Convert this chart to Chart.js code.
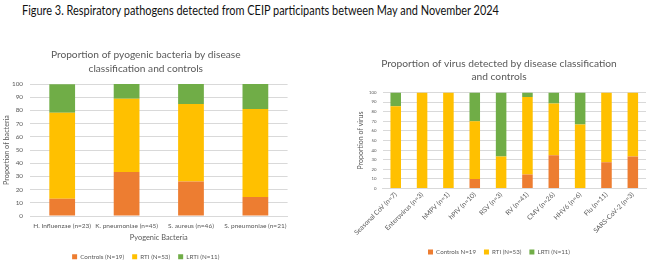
<!DOCTYPE html>
<html><head><meta charset="utf-8">
<script src="https://cdn.jsdelivr.net/npm/chart.js@4"></script>
<style>
html,body{margin:0;padding:0;background:#fff;width:650px;height:265px;overflow:hidden;font-family:Lato,"Liberation Sans",sans-serif;}
#mainTitle{position:absolute;left:22px;top:1px;line-height:20px;color:#111;white-space:nowrap;transform-origin:0 50%;}
#c1wrap{position:absolute;left:0;top:40px;width:292px;height:225px;}
#c2wrap{position:absolute;left:352px;top:48px;width:296px;height:217px;}
</style></head>
<body>
<div id="mainTitle">Figure 3. Respiratory pathogens detected from CEIP participants between May and November 2024</div>
<div id="c1wrap"><canvas id="c1" width="292" height="225"></canvas></div>
<div id="c2wrap"><canvas id="c2" width="296" height="217"></canvas></div>
<script>
// ---- Data ----
const bacteriaLabels = ["H. Influenzae (n=23)", "K. pneumoniae (n=45)", "S. aureus (n=46)", "S. pneumoniae (n=21)"];
const bacteriaControls = [13.0, 33.3, 26.1, 14.3];
const bacteriaRTI = [65.2, 55.6, 58.7, 66.7];
const bacteriaLRTI = [21.7, 11.1, 15.2, 19.0];

const virusLabels = ["Seasonal CoV (n=7)", "Enterovirus (n=3)", "hMPV (n=1)", "hPIV (n=10)", "RSV (n=3)", "RV (n=41)", "CMV (n=26)", "HHV6 (n=6)", "Flu (n=11)", "SARS-CoV-2 (n=3)"];
const virusControls = [0, 0, 0, 10, 0, 14.6, 34.6, 0, 27.3, 33.3];
const virusRTI = [85.7, 100, 100, 60, 33.3, 80.5, 53.8, 66.7, 72.7, 66.7];
const virusLRTI = [14.3, 0, 0, 30, 66.7, 4.9, 11.5, 33.3, 0, 0];

const yTicks = [0, 10, 20, 30, 40, 50, 60, 70, 80, 90, 100];

const leftLegend = ["Controls (N=19)", "RTI (N=53)", "LRTI (N=11)"];
const rightLegend = ["Controls N=19", "RTI (N=53)", "LRTI (N=11)"];

const mainTitleText = "Figure 3. Respiratory pathogens detected from CEIP participants between May and November 2024";
const leftTitle = ["Proportion of pyogenic bacteria by disease", "classification and controls"];
const rightTitle = ["Proportion of virus detected by disease classification", "and controls"];

// ---- Styles ----
const C_ORANGE = "#ED7D31", C_YELLOW = "#FFC000", C_GREEN = "#70AD47";
const TXT = "#595959";
const FAMILY = "Lato";
const FONT = "Lato, 'Liberation Sans', sans-serif";
Chart.defaults.font.family = FONT;
Chart.defaults.color = TXT;
Chart.defaults.animation = false;

const mctx = document.createElement("canvas").getContext("2d");
function fit(text, width) {
  mctx.font = "100px " + FAMILY;
  return 100 * width / mctx.measureText(text).width;
}

// main title: slightly taller glyphs, compressed horizontally to the reference width
(function () {
  const el = document.getElementById("mainTitle");
  const size = 12.6;
  el.style.fontSize = size + "px";
  mctx.font = size + "px " + FAMILY;
  const w = mctx.measureText(mainTitleText).width;
  el.style.transform = "scaleX(" + (478 / w).toFixed(4) + ")";
})();

function makeChart(id, labels, ctrl, rti, lrti, legendLabels, cfg) {
  const ds = [
    {label: legendLabels[0], data: ctrl, backgroundColor: C_ORANGE},
    {label: legendLabels[1], data: rti, backgroundColor: C_YELLOW},
    {label: legendLabels[2], data: lrti, backgroundColor: C_GREEN}
  ].map(d => Object.assign(d, {barPercentage: cfg.barPct, categoryPercentage: 1, borderWidth: 0}));
  return new Chart(document.getElementById(id), {
    type: "bar",
    data: {labels: labels, datasets: ds},
    options: {
      responsive: false,
      layout: {padding: cfg.padding},
      plugins: {
        title: {display: true, text: cfg.title, color: TXT,
          font: {size: cfg.titleSize, weight: "normal", lineHeight: cfg.titleLH + "px"}, padding: cfg.titlePad},
        legend: {position: "bottom", maxHeight: cfg.legendH,
          labels: {boxWidth: 5, boxHeight: 5, font: {size: cfg.legendSize}, color: TXT, padding: cfg.legendPad}},
        tooltip: {enabled: false}
      },
      scales: {
        x: {
          stacked: true,
          afterFit: s => { s.height = cfg.xHeight; },
          grid: {display: false, drawTicks: false},
          border: {display: true, color: "#D9D9D9"},
          ticks: {font: {size: cfg.xTickSize}, color: TXT, padding: cfg.xTickPad, maxRotation: cfg.rot, minRotation: cfg.rot, autoSkip: false},
          title: {display: !!cfg.xTitle, text: cfg.xTitle, font: {size: cfg.xTitleSize}, color: TXT, padding: cfg.xTitlePad}
        },
        y: {
          stacked: true, min: 0, max: 100,
          afterBuildTicks: s => { s.ticks = yTicks.map(v => ({value: v})); },
          afterFit: s => { s.width = cfg.yWidth; },
          grid: {color: "#D9D9D9", drawTicks: false},
          border: {display: false},
          ticks: {font: {size: cfg.yTickSize}, color: TXT, padding: cfg.yTickPad},
          title: {display: true, text: cfg.yTitle, font: {size: cfg.yTitleSize}, color: TXT, padding: cfg.yTitlePad}
        }
      }
    }
  });
}

makeChart("c1", bacteriaLabels, bacteriaControls, bacteriaRTI, bacteriaLRTI, leftLegend, {
  title: leftTitle, titleSize: fit(leftTitle[0], 190), titleLH: 13.3,
  titlePad: {top: 8.4, bottom: 9},
  padding: {left: 0, right: 0.5, top: 0, bottom: 0},
  legendH: 19.5, legendPad: 8, legendSize: fit(leftLegend[0], 44),
  barPct: 0.4, rot: 0,
  xHeight: 29.5, xTickSize: fit(bacteriaLabels[1], 63), xTickPad: 5.5,
  xTitle: "Pyogenic Bacteria", xTitleSize: fit("Pyogenic Bacteria", 58), xTitlePad: {top: 3.6, bottom: 3.6},
  yWidth: 30, yTickSize: fit("100", 11), yTickPad: 7,
  yTitle: "Proportion of bacteria", yTitleSize: fit("Proportion of bacteria", 70), yTitlePad: {top: 2, bottom: 0}
});
makeChart("c2", virusLabels, virusControls, virusRTI, virusLRTI, rightLegend, {
  title: rightTitle, titleSize: fit(rightTitle[0], 236), titleLH: 12.7,
  titlePad: {top: 9.6, bottom: 9.4},
  padding: {left: 0, right: 2, top: 0, bottom: 0},
  legendH: 27.8, legendPad: 8, legendSize: fit(rightLegend[0], 40),
  barPct: 0.4, rot: 45,
  xHeight: 52.2, xTickSize: fit(virusLabels[0], 57), xTickPad: 2,
  xTitle: "", xTitleSize: 8, xTitlePad: 0,
  yWidth: 29, yTickSize: fit("100", 7.5), yTickPad: 6,
  yTitle: "Proportion of virus", yTitleSize: fit("Proportion of virus", 58), yTitlePad: {top: 3, bottom: 0}
});
</script>
</body></html>
